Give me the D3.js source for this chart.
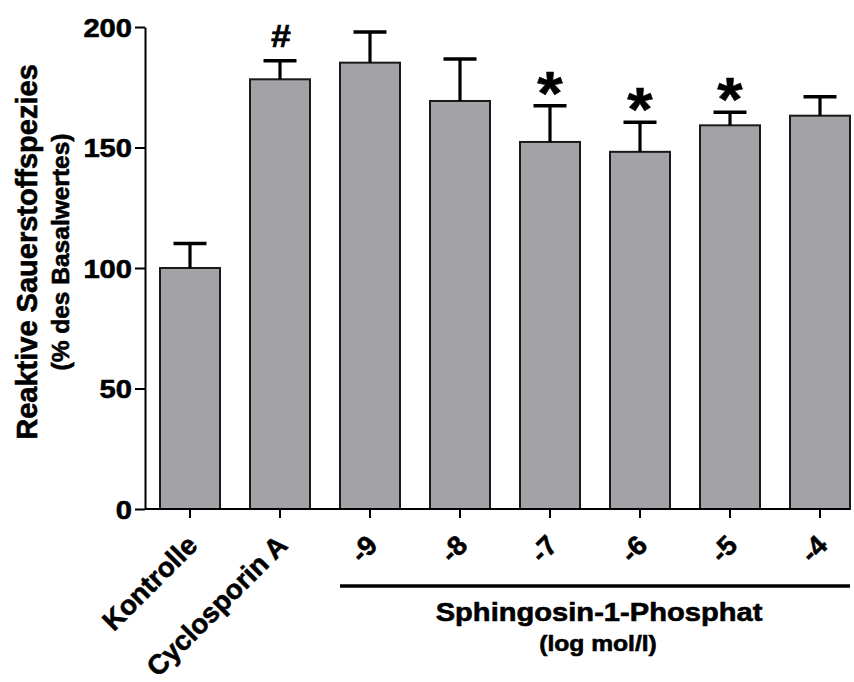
<!DOCTYPE html>
<html>
<head>
<meta charset="utf-8">
<script src="https://cdn.jsdelivr.net/npm/d3@7"></script>
<style>
  body { margin: 0; background: #fff; }
  text { font-family: "Liberation Sans", Arial, Helvetica, sans-serif; font-weight: bold; fill: #000;
         stroke: #000; stroke-width: 0.6px; }
</style>
</head>
<body>
<svg id="chart" width="854" height="682"></svg>
<script>
// Reactive oxygen species relative to baseline (mean with upper SEM bar)
const categories = ["Kontrolle", "Cyclosporin A", "-9", "-8", "-7", "-6", "-5", "-4"];
const meanValues = [100, 178.3, 185.2, 169.3, 152.3, 148.2, 159.2, 163.2];
const semValues = [10.2, 7.7, 12.7, 17.4, 15.0, 12.3, 5.4, 7.9];
const significance = ["", "#", "", "", "*", "*", "*", ""];
const yTicks = [0, 50, 100, 150, 200];
const concentrationGroup = ["-9", "-4"];

// Labels are set in a slightly widened bold sans
const WIDE = 1.12;

const svg = d3.select("#chart");

const x = d3.scaleBand()
  .domain(categories)
  .range([145, 865])
  .paddingInner(1 / 3)
  .paddingOuter(1 / 6);

const y = d3.scaleLinear().domain([0, 200]).range([509, 27]);

const data = categories.map((c, i) => ({
  cat: c, mean: meanValues[i], sem: semValues[i], mark: significance[i]
}));
const cx = d => x(d.cat) + x.bandwidth() / 2;

// Bars
svg.append("g").selectAll("rect").data(data).join("rect")
  .attr("x", d => x(d.cat))
  .attr("y", d => y(d.mean))
  .attr("width", x.bandwidth())
  .attr("height", d => y(0) - y(d.mean))
  .attr("fill", "#a3a2a7")
  .attr("stroke", "#1a1a1a")
  .attr("stroke-width", 2);

// Upper error bars
const err = svg.append("g").attr("stroke", "#000");
err.selectAll("line.stem").data(data).join("line")
  .attr("class", "stem")
  .attr("x1", cx).attr("x2", cx)
  .attr("y1", d => y(d.mean))
  .attr("y2", d => y(d.mean + d.sem))
  .attr("stroke-width", 3.2);
err.selectAll("line.cap").data(data).join("line")
  .attr("class", "cap")
  .attr("x1", d => cx(d) - 16.5)
  .attr("x2", d => cx(d) + 16.5)
  .attr("y1", d => y(d.mean + d.sem))
  .attr("y2", d => y(d.mean + d.sem))
  .attr("stroke-width", 3.5);

// Significance markers
svg.append("g").selectAll("text").data(data.filter(d => d.mark)).join("text")
  .attr("transform", d => d.mark === "*"
    ? `translate(${cx(d)},${y(d.mean + d.sem) + 8}) scale(1.05,1)`
    : `translate(${cx(d) + 1},${y(d.mean + d.sem) - 13.5}) scale(1.15,1)`)
  .attr("text-anchor", "middle")
  .style("font-size", d => d.mark === "*" ? "62px" : "31px")
  .text(d => d.mark);

// Y axis
const yAxis = svg.append("g")
  .attr("transform", "translate(145,0)")
  .call(d3.axisLeft(y).tickValues(yTicks).tickSize(10).tickSizeOuter(0).tickPadding(4));
yAxis.select(".domain").attr("stroke", "#000").attr("stroke-width", 2);
yAxis.selectAll(".tick line").attr("stroke", "#000").attr("stroke-width", 2);
yAxis.selectAll(".tick text")
  .attr("x", 0).attr("dy", "0.36em")
  .attr("transform", `translate(-13,0) scale(${WIDE},1)`)
  .style("font-size", "26px");

// X axis
const xAxis = svg.append("g")
  .attr("transform", "translate(0,509)")
  .call(d3.axisBottom(x).tickSize(9).tickSizeOuter(0));
xAxis.select(".domain").remove();
xAxis.selectAll(".tick line").attr("stroke", "#000").attr("stroke-width", 2);
xAxis.selectAll(".tick text")
  .attr("y", 0).attr("dy", 0)
  .attr("text-anchor", "end")
  .attr("transform", "translate(9,38) rotate(-45)")
  .style("font-size", "27.5px");
svg.append("line")
  .attr("x1", 145).attr("x2", x(categories[categories.length - 1]) + x.bandwidth())
  .attr("y1", 509).attr("y2", 509)
  .attr("stroke", "#000").attr("stroke-width", 2);

// Y axis titles
svg.append("text")
  .attr("transform", "translate(37,252) rotate(-90)")
  .attr("text-anchor", "middle")
  .style("font-size", "29px")
  .text("Reaktive Sauerstoffspezies");
svg.append("text")
  .attr("transform", "translate(69,252) rotate(-90)")
  .attr("text-anchor", "middle")
  .style("font-size", "24.5px")
  .text("(% des Basalwertes)");

// Concentration group bracket and label
const gx1 = x(concentrationGroup[0]);
const gx2 = x(concentrationGroup[1]) + x.bandwidth();
svg.append("line")
  .attr("x1", gx1).attr("x2", gx2)
  .attr("y1", 586).attr("y2", 586)
  .attr("stroke", "#000").attr("stroke-width", 3.5);
svg.append("text")
  .attr("transform", `translate(${(gx1 + gx2) / 2 + 4},621) scale(${WIDE},1)`)
  .attr("text-anchor", "middle")
  .style("font-size", "26px")
  .text("Sphingosin-1-Phosphat");
svg.append("text")
  .attr("transform", `translate(${(gx1 + gx2) / 2 + 3},651) scale(${WIDE},1)`)
  .attr("text-anchor", "middle")
  .style("font-size", "22px")
  .text("(log mol/l)");
</script>
</body>
</html>
